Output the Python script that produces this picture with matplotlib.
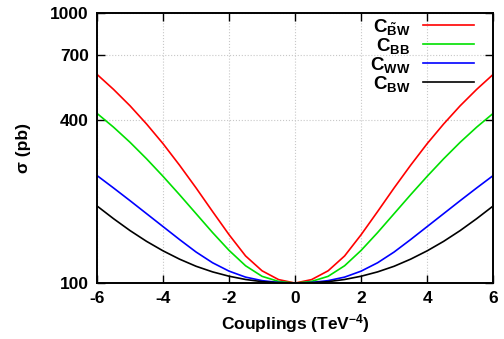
import numpy as np
import matplotlib
matplotlib.use("Agg")
import matplotlib.pyplot as plt

plt.rcParams['font.family'] = 'Liberation Sans'
plt.rcParams['font.weight'] = 'bold'
plt.rcParams['axes.unicode_minus'] = False
plt.rcParams['mathtext.fontset'] = 'custom'
plt.rcParams['mathtext.rm'] = 'Liberation Sans:bold'
plt.rcParams['mathtext.bf'] = 'Liberation Sans:bold'
plt.rcParams['mathtext.it'] = 'Liberation Sans:bold'

# coupling values (TeV^-4)
couplings = [-6, -5.5, -5, -4.5, -4, -3.5, -3, -2.5, -2, -1.5, -1, -0.5, 0,
             0.5, 1, 1.5, 2, 2.5, 3, 3.5, 4, 4.5, 5, 5.5, 6]

# cross sections (pb)
sigma_bw_tilde = [592, 521, 453, 388, 328, 273, 225, 184, 151, 126, 111, 103, 100,
                  103, 111, 126, 151, 184, 225, 273, 328, 388, 453, 521, 592]
sigma_bb = [424.6, 377.6, 331.9, 288.4, 248.3, 212.3, 180.7, 153.8, 132.1, 115.9, 105.9, 101.4, 100,
            101.4, 105.9, 115.9, 132.1, 153.8, 180.7, 212.3, 248.3, 288.4, 331.9, 377.6, 424.6]
sigma_ww = [250.0, 224.9, 201.8, 180.7, 161.8, 144.9, 130.3, 118.9, 110.7, 105.2, 102.1, 100.5, 100,
            100.5, 102.1, 105.2, 110.7, 118.9, 130.3, 144.9, 161.8, 180.7, 201.8, 224.9, 250.0]
sigma_bw = [192.9, 173.1, 156.4, 142.7, 131.6, 122.6, 115.4, 110.0, 106.0, 103.1, 101.2, 100.3, 100,
            100.3, 101.2, 103.1, 106.0, 110.0, 115.4, 122.6, 131.6, 142.7, 156.4, 173.1, 192.9]

fig = plt.figure(figsize=(5.04, 3.39), dpi=100)
ax = fig.add_axes([0.1925, 0.165, 0.786, 0.797])

ax.plot(couplings, sigma_bw_tilde, color='#ff0000', lw=1.2, label=r'$\mathbf{C_{\tilde{B}W}}$')
ax.plot(couplings, sigma_bb, color='#00e000', lw=1.2, label=r'$\mathbf{C_{BB}}$')
ax.plot(couplings, sigma_ww, color='#0000ff', lw=1.2, label=r'$\mathbf{C_{WW}}$')
ax.plot(couplings, sigma_bw, color='black', lw=1.2, label=r'$\mathbf{C_{BW}}$')

ax.set_yscale('log')
ax.set_xlim(-6, 6)
ax.set_ylim(100, 1000)
ax.set_xticks([-6, -4, -2, 0, 2, 4, 6])
ax.set_xticklabels(['-6', '-4', '-2', '0', '2', '4', '6'], fontweight='bold')
ax.set_yticks([100, 400, 700, 1000])
ax.set_yticklabels(['100', '400', '700', '1000'], fontweight='bold')
ax.yaxis.set_minor_locator(matplotlib.ticker.NullLocator())
ax.tick_params(direction='in', top=True, right=True, length=5.5, width=1.0,
               labelsize=12.5, pad=6)
for s in ax.spines.values():
    s.set_linewidth(1.4)
ax.grid(True, color='#c8c8c8', linestyle=':', lw=0.8)

ax.set_xlabel(r'Couplings (TeV$^{\mathbf{-4}}$)', fontsize=12.5,
              fontweight='bold', labelpad=4)
ax.set_ylabel('σ (pb)', fontsize=12.5, fontweight='bold', labelpad=14)

leg = ax.legend(loc='upper right', bbox_to_anchor=(0.985, 1.035), frameon=False,
                markerfirst=False, fontsize=13.5, handlelength=2.7,
                labelspacing=-0.05, handletextpad=0.7, borderaxespad=0.3)
for t in leg.get_texts():
    t.set_ha('right')

fig.savefig('out.png', dpi=100)
